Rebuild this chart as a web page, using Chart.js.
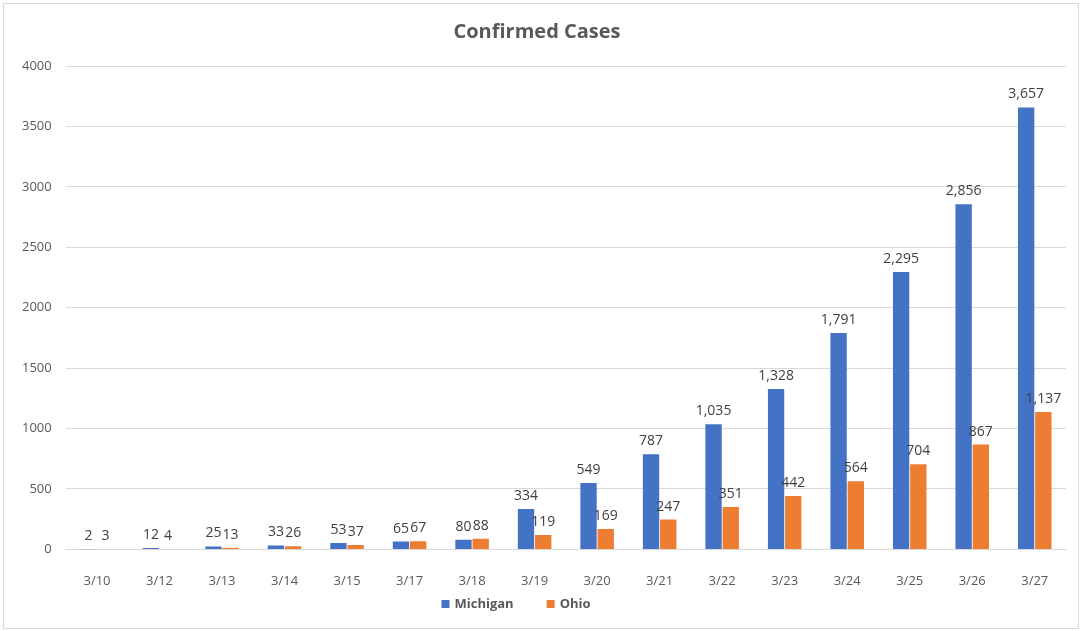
<!DOCTYPE html>
<html>
<head>
<meta charset="utf-8">
<script src="https://cdn.jsdelivr.net/npm/chart.js@4"></script>
<style>
  body { margin: 0; background: #fff; }
  #box { position: absolute; left: 3px; top: 3px; width: 1074px; height: 624px; border: 1px solid #d9d9d9; }
</style>
</head>
<body>
<div id="box"><canvas id="chart" width="1074" height="624"></canvas></div>
<script>
const days = ['3/10','3/12','3/13','3/14','3/15','3/17','3/18','3/19','3/20','3/21','3/22','3/23','3/24','3/25','3/26','3/27'];
const michigan = [2, 12, 25, 33, 53, 65, 80, 334, 549, 787, 1035, 1328, 1791, 2295, 2856, 3657];
const ohio = [3, 4, 13, 26, 37, 67, 88, 119, 169, 247, 351, 442, 564, 704, 867, 1137];

const FONT = "'Open Sans', 'Liberation Sans', sans-serif";

// numbers over each bar, like Excel's data labels
const barLabels = {
  id: 'barLabels',
  afterDatasetsDraw(chart) {
    const ctx = chart.ctx;
    ctx.save();
    ctx.font = "14px " + FONT;
    ctx.fillStyle = '#404040';
    ctx.textAlign = 'center';
    ctx.textBaseline = 'bottom';
    chart.data.datasets.forEach((ds, i) => {
      chart.getDatasetMeta(i).data.forEach((bar, j) => {
        ctx.fillText(ds.data[j].toLocaleString('en-US'), bar.x, bar.y - 6);
      });
    });
    ctx.restore();
  }
};

// Excel style legend: small squares, wide gap between entries
const bottomLegend = {
  id: 'bottomLegend',
  afterDraw(chart) {
    const ctx = chart.ctx;
    ctx.save();
    ctx.font = "bold 13px " + FONT;
    ctx.textBaseline = 'middle';
    const y = 600, box = 8, gap = 5, between = 33;
    const items = chart.data.datasets.map(ds => ({ text: ds.label, color: ds.backgroundColor }));
    let total = 0;
    items.forEach((it, i) => {
      it.w = box + gap + ctx.measureText(it.text).width;
      total += it.w + (i ? between : 0);
    });
    let x = 512 - total / 2;
    items.forEach(it => {
      ctx.fillStyle = it.color;
      ctx.fillRect(x, y - box / 2, box, box);
      ctx.fillStyle = '#595959';
      ctx.fillText(it.text, x + box + gap, y);
      x += it.w + between;
    });
    ctx.restore();
  }
};

new Chart(document.getElementById('chart'), {
  type: 'bar',
  data: {
    labels: days,
    datasets: [
      { label: 'Michigan', data: michigan, backgroundColor: '#4472C4' },
      { label: 'Ohio', data: ohio, backgroundColor: '#ED7D31' }
    ]
  },
  options: {
    responsive: false,
    animation: false,
    layout: { padding: { left: 4, right: 12, top: 4, bottom: 15 } },
    datasets: { bar: { categoryPercentage: 0.55, barPercentage: 0.95 } },
    scales: {
      x: {
        grid: { display: false, drawTicks: false },
        border: { color: '#d9d9d9' },
        ticks: { color: '#595959', font: { family: FONT, size: 13 }, padding: 24 }
      },
      y: {
        min: 0, max: 4000,
        grid: { color: '#d9d9d9', drawTicks: false },
        border: { display: false },
        ticks: {
          stepSize: 500, color: '#595959', font: { family: FONT, size: 13 }, padding: 14,
          callback: v => String(v)
        }
      }
    },
    plugins: {
      title: {
        display: true,
        text: 'Confirmed Cases',
        color: '#595959',
        font: { family: FONT, size: 20, weight: 'bold' },
        padding: { top: 12, bottom: 22 }
      },
      legend: { display: false },
      tooltip: { enabled: false }
    }
  },
  plugins: [barLabels, bottomLegend]
});
</script>
</body>
</html>
